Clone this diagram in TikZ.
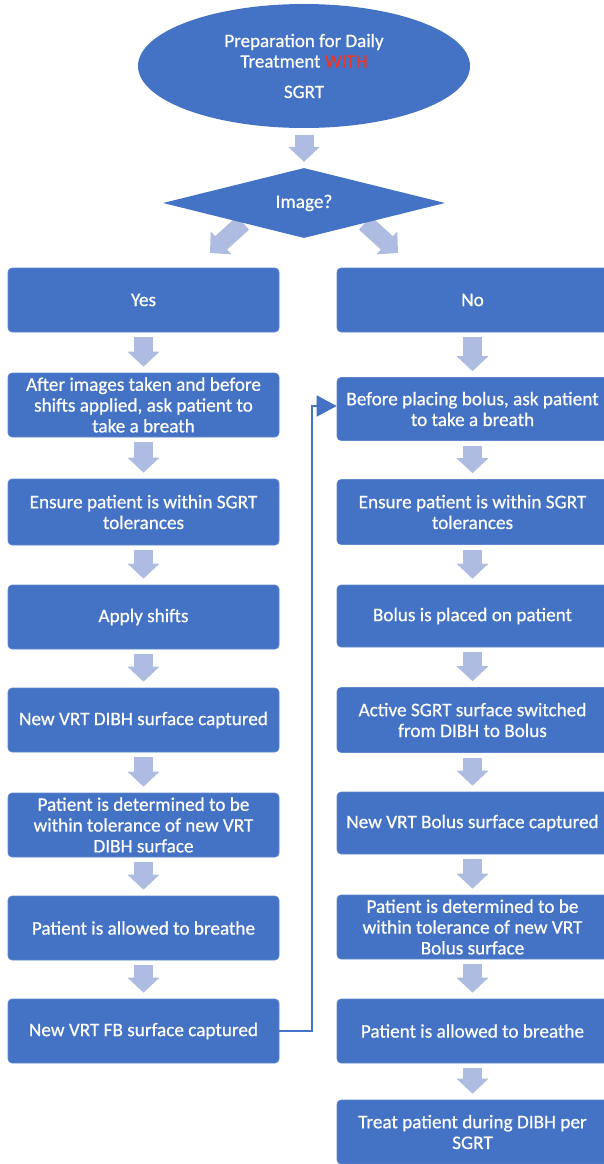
\documentclass[tikz,border=0pt]{standalone}
\usepackage{fontspec}
\setmainfont[FakeBold=0.6,AutoFakeBold=0.6]{Carlito}
\newfontfamily\boxfont[FakeBold=0.6]{Carlito}
\usetikzlibrary{arrows.meta,shapes.geometric}
\definecolor{boxblue}{HTML}{4472C4}
\definecolor{arrowcol}{HTML}{ADBCE0}
\definecolor{withred}{HTML}{E8382C}
\tikzset{
  stepbox/.style={rectangle,rounded corners=4pt,fill=boxblue,draw=boxblue!85!white,line width=0.6pt,
    minimum width=271pt,minimum height=64pt,text=white,align=center,
    font=\boxfont\fontsize{19.2}{20.8}\selectfont,inner sep=2pt},
  fatarrow/.style={draw=arrowcol,line width=19pt,-{Triangle[width=31pt,length=15pt]},arrowcol},
  decision/.style={diamond,fill=boxblue,minimum width=282pt,minimum height=70pt,inner sep=0pt,aspect=4,text=white,
    font=\boxfont\fontsize{19.2}{20}\selectfont},
  link/.style={draw=boxblue,line width=1.4pt,-{Triangle[width=21pt,length=20pt]}}
}
\begin{document}
\begin{tikzpicture}[x=1pt,y=-1pt]
\useasboundingbox (0,0) rectangle (604,1164);
% start
\node[ellipse,fill=boxblue,minimum width=332pt,minimum height=124pt,inner sep=0pt,text=white,align=center,
  font=\boxfont\fontsize{19}{20.5}\selectfont] (start) at (304,66)
  {Preparation for Daily\\Treatment \textcolor{withred}{WITH}\\[10pt]SGRT};
% diagonal arrows (under the diamond)
\coordinate (dl1) at (243,223);
\coordinate (dl2) at (210,253);
\coordinate (dr1) at (365,223);
\coordinate (dr2) at (398,253);
\draw[fatarrow,line width=18pt,-{Triangle[width=30pt,length=15pt]}] (dl1) -- (dl2);
\draw[fatarrow,line width=18pt,-{Triangle[width=30pt,length=15pt]}] (dr1) -- (dr2);
\node[decision] (img) at (304,203) {Image?};
\draw[fatarrow,shorten <=7pt,shorten >=6pt] (start.south) -- (img.north);
% left column
\node[stepbox] (yes) at (143.5,300) {Yes};
\node[stepbox] (l1) at (143.5,405) {After images taken and before\\shifts applied, ask patient to\\take a breath};
\node[stepbox,minimum height=66pt] (l2) at (143.5,512) {Ensure patient is within SGRT\\tolerances};
\node[stepbox] (l3) at (143.5,617) {Apply shifts};
\node[stepbox] (l4) at (143.5,720) {New VRT DIBH surface captured};
\node[stepbox] (l5) at (143.5,825) {Patient is determined to be\\within tolerance of new VRT\\DIBH surface};
\node[stepbox] (l6) at (143.5,928) {Patient is allowed to breathe};
\node[stepbox] (l7) at (143.5,1031) {New VRT FB surface captured};
% right column
\node[stepbox] (no) at (472.5,300) {No};
\node[stepbox,minimum height=63pt] (r1) at (472.5,409) {Before placing bolus, ask patient\\to take a breath};
\node[stepbox,minimum height=65pt] (r2) at (472.5,512) {Ensure patient is within SGRT\\tolerances};
\node[stepbox,minimum height=62pt] (r3) at (472.5,616) {Bolus is placed on patient};
\node[stepbox,minimum height=65pt] (r4) at (472.5,720) {Active SGRT surface switched\\from DIBH to Bolus};
\node[stepbox,minimum height=62pt] (r5) at (472.5,823) {New VRT Bolus surface captured};
\node[stepbox] (r6) at (472.5,927) {Patient is determined to be\\within tolerance of new VRT\\Bolus surface};
\node[stepbox] (r7) at (472.5,1031) {Patient is allowed to breathe};
\node[stepbox] (r8) at (472.5,1132) {Treat patient during DIBH per\\SGRT};
% fat arrows
\foreach \a/\b in {yes/l1,l1/l2,l2/l3,l3/l4,l4/l5,l5/l6,l6/l7,no/r1,r1/r2,r2/r3,r3/r4,r4/r5,r5/r6,r6/r7,r7/r8}{
  \draw[fatarrow,shorten <=5pt,shorten >=6pt] (\a.south) -- (\b.north);
}
% loop connector
\coordinate (bend) at (312,0);
\coordinate (jy) at (0,406);
\draw[link] (l7.east) -- (l7.east -| bend) -- (bend |- jy) -- (r1.west |- jy);
\end{tikzpicture}
\end{document}
